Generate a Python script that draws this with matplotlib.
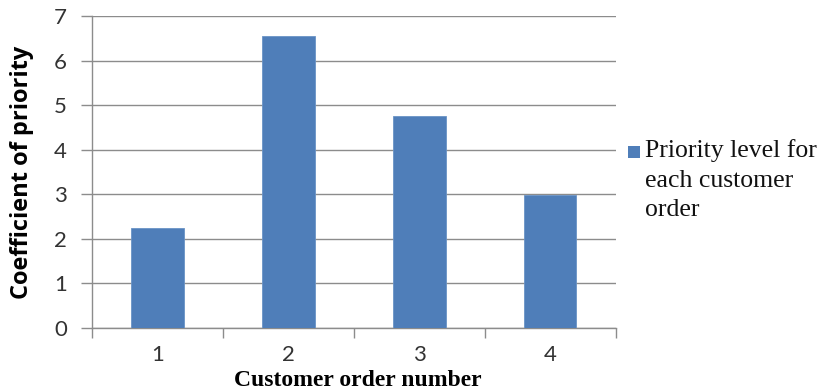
import matplotlib
matplotlib.use("Agg")
import matplotlib.pyplot as plt
from matplotlib.patches import Rectangle
import numpy as np

categories = ["1", "2", "3", "4"]
values = [2.25, 6.55, 4.76, 2.98]
yticks = [0, 1, 2, 3, 4, 5, 6, 7]
series_name = "Priority level for\neach customer\norder"

bar_color = "#4F7EB9"
grid_color = "#8C8C8C"

fig = plt.figure(figsize=(8.22, 3.91), dpi=100)
ax = fig.add_axes([0.112, 0.161, 0.637, 0.798])

x = np.arange(len(categories))
ax.bar(x, values, width=0.4, color=bar_color, edgecolor="#6A93C6", linewidth=0.6, zorder=3)

ax.set_xlim(-0.5, len(categories) - 0.5)
ax.set_ylim(0, 7)
ax.set_yticks(yticks)
ax.set_yticklabels([str(t) for t in yticks], fontsize=16, family="Lato", color="#333333")
ax.set_xticks(x)
ax.set_xticklabels(categories, fontsize=16, family="Lato", color="#333333")
ax.tick_params(axis="x", length=0, pad=12)
ax.tick_params(axis="y", length=8, color=grid_color, width=1, pad=10)
ax.set_xticks(np.arange(-0.5, len(categories), 1.0), minor=True)
ax.tick_params(axis="x", which="minor", length=7, color=grid_color, width=1)

ax.yaxis.grid(True, color=grid_color, linewidth=1, zorder=0)
for s in ["top", "right"]:
    ax.spines[s].set_visible(False)
for s in ["left", "bottom"]:
    ax.spines[s].set_color(grid_color)
    ax.spines[s].set_linewidth(1)

ax.set_ylabel("Coefficient of priority", fontsize=17, fontweight="bold", family="Open Sans")
ax.yaxis.set_label_coords(-0.11, 0.5)
fig.text(0.435, 0.0, "Customer order number", fontsize=17, fontweight="bold",
         family="Liberation Serif", ha="center", va="bottom")

# legend (manual, so the key aligns with the first line of text)
fig.patches.append(Rectangle((628 / 822, 1 - 158 / 391), 12 / 822, 12 / 391,
                             transform=fig.transFigure, facecolor=bar_color,
                             edgecolor="none", figure=fig))
fig.text(645 / 822, 1 - 139 / 391, series_name, fontsize=18.5, family="Liberation Serif",
         ha="left", va="top", linespacing=1.45, color="#111111")

fig.savefig("out.png", dpi=100)
